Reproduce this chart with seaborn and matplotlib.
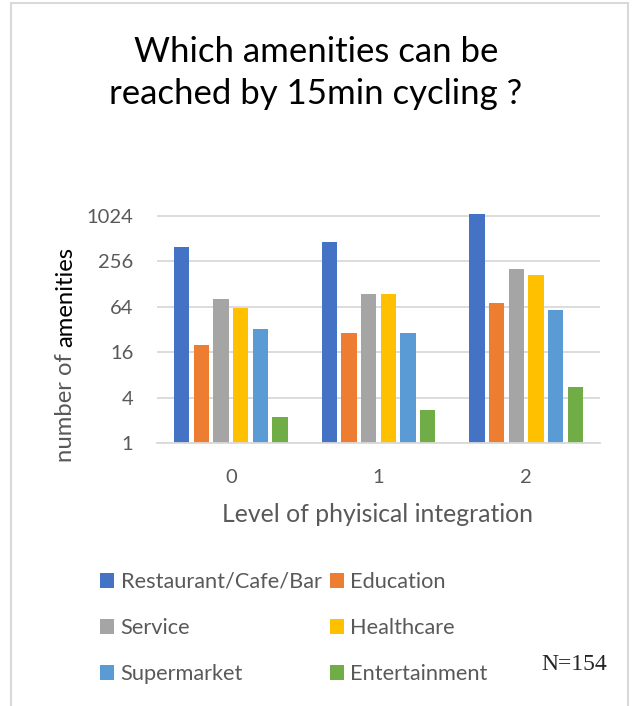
import numpy as np
import pandas as pd
import matplotlib
matplotlib.use("Agg")
import matplotlib.pyplot as plt
from matplotlib.patches import Rectangle
from matplotlib.ticker import FixedLocator, NullLocator
import seaborn as sns

# Average number of amenities reachable within 15 minutes by bike
levels = ["0", "1", "2"]
amenities = ["Restaurant/Cafe/Bar", "Education", "Service",
             "Healthcare", "Supermarket", "Entertainment"]
restaurant = [400, 460, 1090]
education = [20, 29, 72]
service = [82, 93, 204]
healthcare = [61, 95, 169]
supermarket = [32, 29, 58]
entertainment = [2.2, 2.7, 5.6]
colors = ["#4472C4", "#ED7D31", "#A5A5A5", "#FFC000", "#5B9BD5", "#70AD47"]
y_ticks = [1, 4, 16, 64, 256, 1024]

series = [restaurant, education, service, healthcare, supermarket, entertainment]
rows = []
for name, vals in zip(amenities, series):
    for lvl, v in zip(levels, vals):
        rows.append({"level": lvl, "amenity": name, "value": v})
df = pd.DataFrame(rows)

sns.set_theme(style="white")
plt.rcParams["font.family"] = ["Lato", "DejaVu Sans"]

W, H = 632, 706
fig = plt.figure(figsize=(W / 100, H / 100), dpi=100)
fig.patch.set_facecolor("white")

ax_left, ax_right, ax_bottom, ax_top = 157, 600, 443, 209
ax = fig.add_axes([ax_left / W, 1 - ax_bottom / H,
                   (ax_right - ax_left) / W, (ax_bottom - ax_top) / H])

sns.barplot(data=df, x="level", y="value", hue="amenity", order=levels,
            hue_order=amenities, palette=colors, width=0.8, gap=0.21,
            saturation=1, errorbar=None, linewidth=0, ax=ax)

ax.set_yscale("log", base=2)
ax.set_ylim(1, 2 ** 10.3)
ax.yaxis.set_major_locator(FixedLocator(y_ticks))
ax.yaxis.set_minor_locator(NullLocator())
ax.set_yticklabels([str(t) for t in y_ticks])
ax.set_xlim(-0.5, 2.5)

grid_c = "#d9d9d9"
ax.grid(axis="y", color=grid_c, lw=1.3)
ax.grid(axis="x", visible=False)
ax.set_axisbelow(True)
for side in ["left", "right", "top"]:
    ax.spines[side].set_visible(False)
ax.spines["bottom"].set_color(grid_c)
ax.spines["bottom"].set_linewidth(1.3)

ax.tick_params(axis="y", length=0, labelsize=14.5, labelcolor="#595959", pad=17)
ax.tick_params(axis="x", length=0, labelsize=14.5, labelcolor="#595959", pad=19)
ax.set_xlabel("")
ax.set_ylabel("")

# Legend laid out row by row in two columns
handles, labels = ax.get_legend_handles_labels()
ax.legend_.remove()
order = [0, 2, 4, 1, 3, 5]
fig.legend([handles[i] for i in order], [labels[i] for i in order],
           ncol=2, loc="upper left", bbox_to_anchor=(100 / W, 1 - 572 / H),
           frameon=False, fontsize=15.7, labelcolor="#595959",
           handlelength=0.65, handleheight=0.65, handletextpad=0.3,
           columnspacing=0.37, labelspacing=1.2, borderaxespad=0,
           borderpad=0)

# Title
fig.text(316 / W, 1 - 73 / H, "Which amenities can be\nreached by 15min cycling ?",
         ha="center", va="center", fontsize=25, color="black", linespacing=1.4)

# Axis titles
fig.text(377 / W, 1 - 515 / H, "Level of phyisical integration",
         ha="center", va="center", fontsize=17.8, color="#595959")

t1 = fig.text(65.5 / W, 1 - 462 / H, "number of ", rotation=90,
              ha="center", va="bottom", fontsize=17.2, color="#595959")
fig.canvas.draw()
bb = t1.get_window_extent()
fig.text(65.5 / W, bb.y1 / H, "amenities", rotation=90,
         ha="center", va="bottom", fontsize=17.2, color="black")

fig.text(541 / W, 1 - 664 / H, "N=154", ha="left", va="center",
         fontsize=17, color="#262626", family=["Liberation Serif", "DejaVu Serif"])

# Chart area border
fig.patches.append(Rectangle((11 / W, -0.05), (628 - 11) / W, 1 - 3 / H + 0.05,
                             transform=fig.transFigure, fill=False,
                             edgecolor=grid_c, lw=1.5))

fig.savefig("out.png", dpi=100, facecolor="white")
